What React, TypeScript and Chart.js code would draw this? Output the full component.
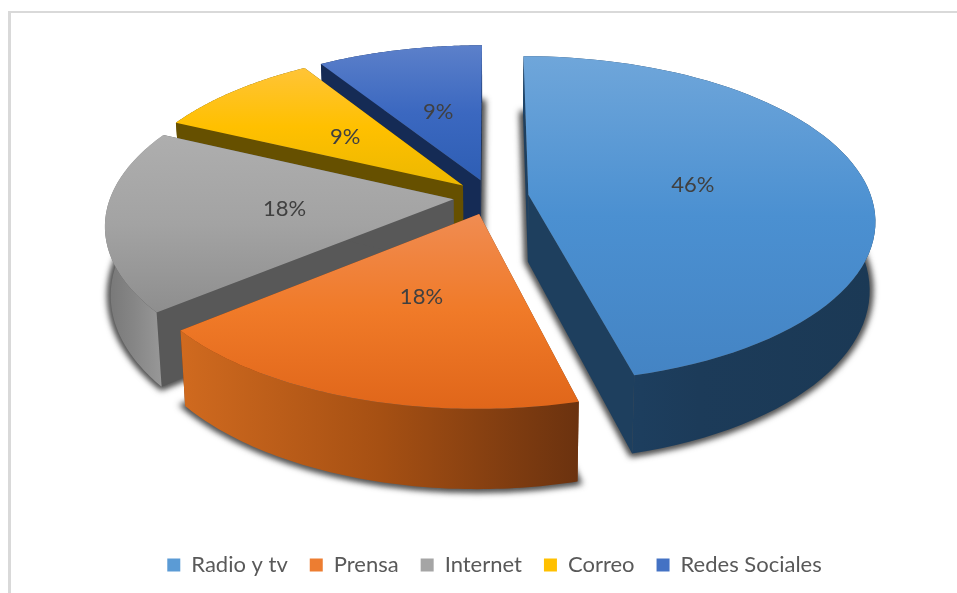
import React, { useEffect, useRef } from "react";
import { Chart, registerables } from "chart.js";

Chart.register(...registerables);

const categories = ["Radio y tv", "Prensa", "Internet", "Correo", "Redes Sociales"];
const shares = [46, 18, 18, 9, 9];
const baseColors = ["#5B9BD5", "#ED7D31", "#A5A5A5", "#FFC000", "#4472C4"];
const topStops = [
  ["#6fa6da", "#4b90d1", "#4484c4"],
  ["#f08c52", "#f07a28", "#e0661a"],
  ["#aeaeae", "#a3a3a3", "#8e8e8e"],
  ["#ffc437", "#ffc000", "#ecb800"],
  ["#5c80ca", "#3b68c0", "#2e5eb4"],
];
const wallStops = [
  ["#1f4468", "#1c3b59", "#1b3955"],
  ["#d06a1f", "#a65013", "#6b320f"],
  ["#767676", "#868686", "#999999"],
  ["#665000", "#665000", "#665000"],
  ["#152b55", "#152b55", "#152b55"],
];
const cutColors = ["#1e3f5e", "#7a3a10", "#585858", "#665000", "#152b55"];

// Perspective camera for the flat pie
const CX = 491;
const CY = 197;
const RX = 343;
const RY = 160;
const PERSPECTIVE_X = 0.15;
const PERSPECTIVE_Y = 0.15;
const DEPTH = 67;
const BOTTOM_SHRINK = 0.015;
const EXPLODE = 0.11;
const LABEL_RADIUS = 0.6;

function project(u: number, v: number, z: number) {
  const sx = 1 / (1 - PERSPECTIVE_X * v);
  const sy = 1 / (1 - PERSPECTIVE_Y * v);
  return {
    x: CX + RX * u * sx * (1 - BOTTOM_SHRINK * z),
    y: CY + RY * v * sy + DEPTH * sy * z,
  };
}

function path(ctx: CanvasRenderingContext2D, pts: { x: number; y: number }[]) {
  ctx.beginPath();
  pts.forEach((p, i) => (i ? ctx.lineTo(p.x, p.y) : ctx.moveTo(p.x, p.y)));
  ctx.closePath();
}

function sliceGeometry(el: any) {
  const a0 = el.startAngle;
  const a1 = el.endAngle;
  const mid = (a0 + a1) / 2;
  const ox = Math.cos(mid) * EXPLODE;
  const oy = Math.sin(mid) * EXPLODE;
  const arc = (z: number) => {
    const pts = [];
    const steps = 72;
    for (let i = 0; i <= steps; i++) {
      const a = a0 + ((a1 - a0) * i) / steps;
      pts.push(project(ox + Math.cos(a), oy + Math.sin(a), z));
    }
    return pts;
  };
  return { mid, ox, oy, a0, a1, top: arc(0), bottom: arc(1), apexTop: project(ox, oy, 0), apexBottom: project(ox, oy, 1) };
}

function vertical(ctx: CanvasRenderingContext2D, y0: number, y1: number, stops: string[]) {
  const g = ctx.createLinearGradient(0, y0, 0, y1);
  stops.forEach((c, i) => g.addColorStop(i / (stops.length - 1), c));
  return g;
}

function horizontal(ctx: CanvasRenderingContext2D, x0: number, x1: number, stops: string[]) {
  const g = ctx.createLinearGradient(x0, 0, x1, 0);
  stops.forEach((c, i) => g.addColorStop(i / (stops.length - 1), c));
  return g;
}

const framePlugin = {
  id: "frame",
  beforeDraw(chart: any) {
    const { ctx, width, height } = chart;
    ctx.save();
    ctx.fillStyle = "#ffffff";
    ctx.fillRect(0, 0, width, height);
    ctx.fillStyle = "#d9d9d9";
    ctx.fillRect(8, 11, width - 8, 2);
    ctx.fillRect(8, 11, 3, height - 11);
    ctx.restore();
  },
};

const pie3dPlugin = {
  id: "pie3d",
  beforeDatasetDraw(chart: any, args: any) {
    const { ctx } = chart;
    const meta = args.meta;
    const items = meta.data.map((el: any, i: number) => ({ i, g: sliceGeometry(el) }));
    ctx.save();
    // soft shadows under the slices
    ctx.filter = "blur(3px)";
    ctx.fillStyle = "rgba(50,50,50,0.85)";
    ctx.strokeStyle = "rgba(50,50,50,0.85)";
    ctx.lineWidth = 7;
    items.forEach(({ g }: any) => {
      path(ctx, [g.apexBottom, ...g.bottom]);
      ctx.fill();
      ctx.stroke();
    });
    ctx.filter = "none";
    // back to front
    const order = [...items].sort((a: any, b: any) => Math.sin(a.g.mid) - Math.sin(b.g.mid));
    order.forEach(({ i, g }: any) => {
      const n = g.top.length - 1;
      ctx.fillStyle = cutColors[i];
      path(ctx, [g.apexTop, g.top[0], g.bottom[0], g.apexBottom]);
      ctx.fill();
      path(ctx, [g.apexTop, g.top[n], g.bottom[n], g.apexBottom]);
      ctx.fill();
      const xs = g.top.map((p: any) => p.x);
      ctx.fillStyle = horizontal(ctx, Math.min(...xs), Math.max(...xs), wallStops[i]);
      path(ctx, [...g.top, ...[...g.bottom].reverse()]);
      ctx.fill();
      const ys = [...g.top.map((p: any) => p.y), g.apexTop.y];
      ctx.fillStyle = vertical(ctx, Math.min(...ys), Math.max(...ys), topStops[i]);
      path(ctx, [g.apexTop, ...g.top]);
      ctx.fill();
    });
    // value labels
    ctx.fillStyle = "#404040";
    ctx.font = "22px Lato";
    ctx.textAlign = "center";
    ctx.textBaseline = "middle";
    items.forEach(({ i, g }: any) => {
      const p = project(Math.cos(g.mid) * LABEL_RADIUS, Math.sin(g.mid) * LABEL_RADIUS, 0);
      ctx.fillText(shares[i] + "%", p.x, p.y);
    });
    ctx.restore();
    return false;
  },
};

export default function App() {
  const ref = useRef<HTMLCanvasElement>(null);
  useEffect(() => {
    const chart = new Chart(ref.current as HTMLCanvasElement, {
      type: "pie",
      data: {
        labels: categories,
        datasets: [{ data: shares, backgroundColor: baseColors, borderWidth: 0 }],
      },
      options: {
        animation: false,
        responsive: false,
        devicePixelRatio: 1,
        layout: { padding: { bottom: 7, left: 32 } },
        plugins: {
          tooltip: { enabled: false },
          title: { display: false },
          legend: {
            position: "bottom",
            labels: {
              boxWidth: 13,
              boxHeight: 13,
              padding: 22,
              color: "#595959",
              font: { family: "Lato", size: 22 },
            },
          },
        },
      },
      plugins: [framePlugin, pie3dPlugin],
    } as any);
    return () => chart.destroy();
  }, []);
  return (
    <canvas
      ref={ref}
      width={957}
      height={593}
      style={{ position: "fixed", left: 0, top: 0, width: 957, height: 593, display: "block" }}
    />
  );
}
